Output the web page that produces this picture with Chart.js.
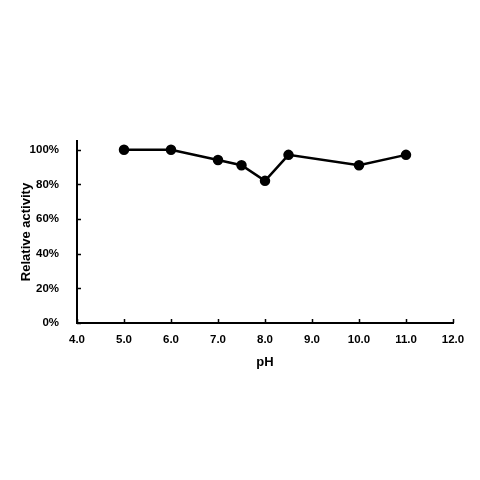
<!DOCTYPE html>
<html>
<head>
<meta charset="utf-8">
<script src="https://cdn.jsdelivr.net/npm/chart.js@4"></script>
<style>
  html, body { margin: 0; padding: 0; background: #fff; }
  #wrap { width: 480px; height: 480px; }
</style>
</head>
<body>
<div id="wrap"><canvas id="c" width="480" height="480"></canvas></div>
<script>
const phValues = [5.0, 6.0, 7.0, 7.5, 8.0, 8.5, 10.0, 11.0];
const relativeActivity = [100, 100, 94, 91, 82, 97, 91, 97];
const yTickValues = [0, 20, 40, 60, 80, 100];
const xTickValues = [4, 5, 6, 7, 8, 9, 10, 11, 12];

const points = phValues.map((x, i) => ({ x: x, y: relativeActivity[i] }));

const FONT = "'Liberation Sans', Arial, sans-serif";

const innerTicks = {
  id: 'innerTicks',
  afterDraw(chart) {
    const ctx = chart.ctx;
    const xs = chart.scales.x, ys = chart.scales.y;
    const area = chart.chartArea;
    ctx.save();
    ctx.strokeStyle = '#000';
    ctx.lineWidth = 1.5;
    ctx.beginPath();
    yTickValues.forEach(v => {
      const py = Math.round(ys.getPixelForValue(v)) + 0.5;
      ctx.moveTo(area.left, py);
      ctx.lineTo(area.left + 4, py);
    });
    xTickValues.forEach(v => {
      const px = Math.round(xs.getPixelForValue(v)) + 0.5;
      ctx.moveTo(px, area.bottom);
      ctx.lineTo(px, area.bottom - 4);
    });
    ctx.stroke();
    ctx.restore();
  }
};

new Chart(document.getElementById('c'), {
  type: 'line',
  data: {
    datasets: [{
      data: points,
      borderColor: '#000',
      backgroundColor: '#000',
      borderWidth: 2.5,
      pointRadius: 4,
      pointBackgroundColor: '#000',
      pointBorderColor: '#000',
      tension: 0,
      clip: false
    }]
  },
  options: {
    responsive: false,
    animation: false,
    devicePixelRatio: 1,
    layout: { padding: { top: 141, right: 27, left: 0, bottom: 0 } },
    plugins: { legend: { display: false }, tooltip: { enabled: false } },
    scales: {
      x: {
        type: 'linear',
        min: 4, max: 12,
        afterBuildTicks(scale) { scale.ticks = xTickValues.map(v => ({ value: v })); },
        afterFit(scale) { scale.height = 157; },
        grid: { display: false },
        border: { display: true, color: '#000', width: 2 },
        ticks: {
          color: '#000',
          padding: 2,
          maxRotation: 0,
          autoSkip: false,
          font: { family: FONT, size: 11.5, weight: 'bold' },
          callback: v => Number(v).toFixed(1)
        },
        title: {
          display: true,
          text: 'pH',
          color: '#000',
          font: { family: FONT, size: 13, weight: 'bold' },
          padding: { top: 0, bottom: 110 }
        }
      },
      y: {
        type: 'linear',
        min: 0, max: 105,
        afterBuildTicks(scale) { scale.ticks = yTickValues.map(v => ({ value: v })); },
        afterFit(scale) { scale.width = 77; },
        grid: { display: false },
        border: { display: true, color: '#000', width: 2 },
        ticks: {
          color: '#000',
          padding: 10,
          autoSkip: false,
          font: { family: FONT, size: 11.5, weight: 'bold' },
          callback: v => v + '%'
        },
        title: {
          display: true,
          text: 'Relative activity',
          color: '#000',
          font: { family: FONT, size: 13, weight: 'bold' },
          padding: { top: 19, bottom: 0 }
        }
      }
    }
  },
  plugins: [innerTicks]
});
</script>
</body>
</html>
